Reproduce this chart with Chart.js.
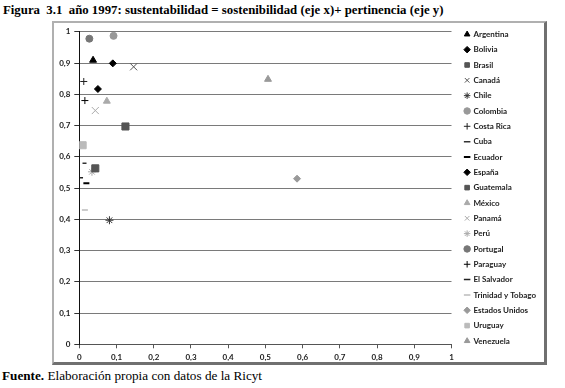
<!DOCTYPE html>
<html>
<head>
<meta charset="utf-8">
<script src="https://cdn.jsdelivr.net/npm/chart.js@4/dist/chart.umd.min.js"></script>
<style>
  html, body { margin:0; padding:0; background:#fff; }
  body { width:565px; height:388px; position:relative; overflow:hidden; }
  #title { position:absolute; left:3px; top:3px; font:bold 12.8px "Liberation Serif", serif; line-height:15px; white-space:nowrap; color:#000; }
  #frame { position:absolute; left:52px; top:21px; width:490px; height:339px;
           border-left:2px solid #b0b0b0; border-top:2px solid #b0b0b0;
           border-right:3px solid #707070; border-bottom:3px solid #707070; background:#fff; }
  #wrap { position:absolute; left:1px; top:0px; width:489px; height:339px; }
  #foot { position:absolute; left:2px; top:368px; font:13.2px "Liberation Serif", serif; line-height:16px; white-space:nowrap; color:#000; }
</style>
</head>
<body>
<div id="title">Figura&nbsp; 3.1&nbsp; año 1997: sustentabilidad = sostenibilidad (eje x)+ pertinencia (eje y)</div>
<div id="frame"><div id="wrap"><canvas id="c" width="489" height="339"></canvas></div></div>
<div id="foot"><b>Fuente.</b> Elaboración propia con datos de la Ricyt</div>
<script>
// ---- data ----
const countries = ['Argentina','Bolivia','Brasil','Canadá','Chile','Colombia','Costa Rica','Cuba','Ecuador','España','Guatemala','México','Panamá','Perú','Portugal','Paraguay','El Salvador','Trinidad y Tobago','Estados Unidos','Uruguay','Venezuela'];
const sostenibilidad = [0.037,0.090,0.124,0.146,0.081,0.092,0.012,0.014,0.019,0.050,0.043,0.074,0.043,0.034,0.027,0.015,0.006,0.015,0.585,0.009,0.507];
const pertinencia    = [0.909,0.899,0.697,0.888,0.397,0.987,0.841,0.579,0.515,0.817,0.563,0.778,0.748,0.552,0.978,0.780,0.533,0.430,0.530,0.637,0.848];
const tickValues = [0,0.1,0.2,0.3,0.4,0.5,0.6,0.7,0.8,0.9,1];
const tickLabels = ['0','0,1','0,2','0,3','0,4','0,5','0,6','0,7','0,8','0,9','1'];

// ---- marker styles ----
const markerStyle = ['triangle','rectRot','rect','crossRot','star','circle','cross','line','line','rectRot','rect','triangle','crossRot','star','circle','cross','line','line','rectRot','rect','triangle'];
const markerColor = ['#000','#000','#555','#555','#333','#999','#222','#333','#000','#000','#555','#aaa','#aaa','#aaa','#777','#000','#222','#bbb','#999','#bbb','#999'];
const markerRadius = [4,3.5,5,5,4,3.5,3.5,2,3,3.5,5,4,5,4,3.5,3.5,1.5,3,3.5,5,4];
const markerBorder = [1,1,1,1,1,1,1,1.5,2,1,1,1,1,1,1,1,1.5,1.5,1,1,1];

const datasets = countries.map((name, i) => ({
  label: name,
  data: [{x: sostenibilidad[i], y: pertinencia[i]}],
  pointStyle: markerStyle[i],
  backgroundColor: markerColor[i],
  borderColor: markerColor[i],
  pointRadius: markerRadius[i],
  pointHoverRadius: markerRadius[i],
  borderWidth: markerBorder[i],
  showLine: false
}));

const setTicks = scale => { scale.ticks = tickValues.map(v => ({value: v})); };
const fmt = (v, i) => tickLabels[i];
const tickFont = {family: 'Lato', size: 8, weight: 'bold'};

new Chart(document.getElementById('c'), {
  type: 'scatter',
  data: { datasets },
  options: {
    responsive: false,
    animation: false,
    devicePixelRatio: 1,
    layout: { padding: {top: 0, left: 0, right: 6, bottom: 0} },
    plugins: {
      tooltip: {enabled: false},
      legend: {
        position: 'right',
        align: 'start',
        labels: {
          usePointStyle: true,
          boxWidth: 4.6, boxHeight: 4.6,
          padding: 7.33,
          color: '#222',
          font: {family: 'Lato', size: 8, weight: 'bold'}
        }
      }
    },
    scales: {
      x: {
        type: 'linear', min: 0, max: 1,
        afterBuildTicks: setTicks,
        afterFit: s => { s.height = 17.7; },
        grid: { drawOnChartArea: false, drawTicks: true, tickLength: 4, color: '#555', tickColor: '#555' },
        border: { display: true, color: '#555', width: 1 },
        ticks: { callback: fmt, font: tickFont, color: '#222', padding: 4, maxRotation: 0, autoSkip: false }
      },
      xTop: {
        type: 'linear', position: 'top', display: true,
        afterFit: s => { s.height = 8.7; },
        grid: { display: false }, border: { display: false }, ticks: { display: false }
      },
      y: {
        type: 'linear', min: 0, max: 1,
        afterBuildTicks: setTicks,
        afterFit: s => { s.width = 24.3; },
        grid: { color: '#7a7a7a', tickColor: '#333', tickLength: 5 },
        border: { display: true, color: '#111', width: 1 },
        ticks: { callback: fmt, font: tickFont, color: '#222', padding: 4, autoSkip: false }
      },
      yRight: {
        type: 'linear', position: 'right', display: true,
        afterFit: s => { s.width = 6; },
        grid: { display: false }, border: { display: false }, ticks: { display: false }
      }
    }
  }
});
</script>
</body>
</html>
